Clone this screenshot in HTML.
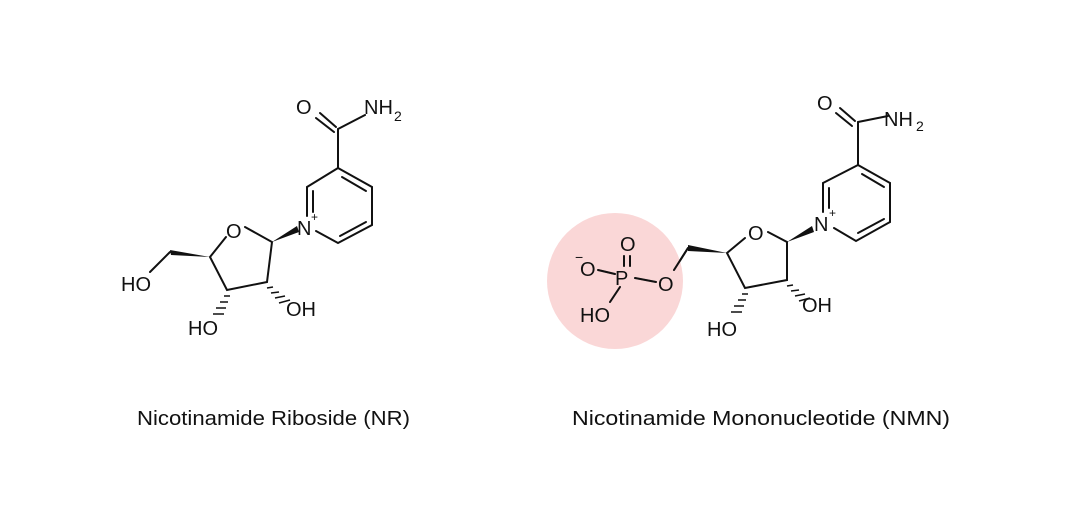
<!DOCTYPE html>
<html><head><style>
html,body{margin:0;padding:0;background:#fff;}
svg{display:block;}
text{font-family:"Liberation Sans",sans-serif;fill:#111;}
</style></head><body>
<svg width="1081" height="526" viewBox="0 0 1081 526" xmlns="http://www.w3.org/2000/svg">
<defs>
<pattern id="h" width="3" height="3" patternUnits="userSpaceOnUse"><rect width="1.5" height="3" fill="#111"/></pattern>
</defs>
<g stroke="#111" stroke-width="2" fill="none" stroke-linecap="round">
<!-- Left molecule -->
<line x1="320" y1="113" x2="336" y2="127"/>
<line x1="316" y1="118" x2="334" y2="132"/>
<line x1="338" y1="129" x2="365" y2="115"/>
<line x1="338" y1="129" x2="338" y2="168"/>
<polyline points="338,168 372,187 372,225 338,243 316,231"/>
<line x1="307" y1="216" x2="307" y2="187"/>
<line x1="307" y1="187" x2="338" y2="168"/>
<line x1="342" y1="177" x2="366" y2="191"/>
<line x1="366" y1="222" x2="340" y2="236"/>
<line x1="313" y1="212" x2="313" y2="191"/>
<polyline points="245,227 272,242 267,282 227,290 210,257 226,237"/>
<line x1="170" y1="252" x2="150" y2="272"/>
<!-- Right molecule -->
<line x1="840" y1="108" x2="855" y2="121"/>
<line x1="836" y1="113" x2="852" y2="126"/>
<line x1="858" y1="122" x2="888" y2="116"/>
<line x1="858" y1="122" x2="858" y2="165"/>
<polyline points="858,165 890,183 890,222 856,241 834,228"/>
<line x1="823" y1="212" x2="823" y2="183"/>
<line x1="823" y1="183" x2="858" y2="165"/>
<line x1="862" y1="174" x2="884" y2="187"/>
<line x1="884" y1="219" x2="858" y2="233"/>
<line x1="829" y1="208" x2="829" y2="188"/>
<polyline points="768,232 787,242 787,280 745,288 727,253 745,238"/>
<line x1="688" y1="248" x2="674" y2="270"/>
<line x1="635" y1="278" x2="656" y2="282"/>
<line x1="598" y1="270" x2="615" y2="274"/>
<line x1="624" y1="256" x2="624" y2="266"/>
<line x1="630" y1="256" x2="630" y2="266"/>
<line x1="620" y1="287" x2="610" y2="302"/>
</g>
<circle cx="615" cy="281" r="68" fill="#f8caca" opacity="0.75"/>
<g stroke="#111" stroke-width="2" fill="none" stroke-linecap="round">
<line x1="688" y1="248" x2="674" y2="270"/>
<line x1="635" y1="278" x2="656" y2="282"/>
<line x1="598" y1="270" x2="615" y2="274"/>
<line x1="624" y1="256" x2="624" y2="266"/>
<line x1="630" y1="256" x2="630" y2="266"/>
<line x1="620" y1="287" x2="610" y2="302"/>
</g>
<!-- wedges -->
<g fill="#111">
<polygon points="272,242 297,226 299,232"/>
<polygon points="210,257 170,250 171,255"/>
<polygon points="787,242 812,226 814,232"/>
<polygon points="727,253 688,245 688,251"/>
</g>
<g stroke="#111" stroke-width="1.5">
<line x1="224" y1="296" x2="230" y2="296"/><line x1="220" y1="302" x2="228" y2="302"/><line x1="216" y1="308" x2="226" y2="308"/><line x1="213" y1="314" x2="224" y2="314"/>
<line x1="267" y1="288" x2="273" y2="287"/><line x1="271" y1="293" x2="279" y2="292"/><line x1="275" y1="298" x2="285" y2="296"/><line x1="279" y1="303" x2="290" y2="300"/>
<line x1="742" y1="294" x2="748" y2="294"/><line x1="738" y1="300" x2="746" y2="300"/><line x1="734" y1="306" x2="744" y2="306"/><line x1="731" y1="312" x2="742" y2="312"/>
<line x1="787" y1="286" x2="793" y2="285"/><line x1="791" y1="291" x2="799" y2="290"/><line x1="795" y1="296" x2="805" y2="294"/><line x1="799" y1="301" x2="810" y2="298"/>
</g>
<g font-size="20">
<text x="296" y="114">O</text>
<text x="364" y="114">NH</text><text x="394" y="121" font-size="14">2</text>
<text x="297" y="235">N</text><text x="311" y="221" font-size="12">+</text>
<text x="226" y="238">O</text>
<text x="121" y="291">HO</text>
<text x="188" y="335">HO</text>
<text x="286" y="316">OH</text>
<text x="817" y="110">O</text>
<text x="884" y="126">NH</text><text x="916" y="131" font-size="14">2</text>
<text x="814" y="231">N</text><text x="829" y="217" font-size="12">+</text>
<text x="748" y="240">O</text>
<text x="707" y="336">HO</text>
<text x="802" y="312">OH</text>
<text x="658" y="291">O</text>
<text x="615" y="285">P</text>
<text x="620" y="251">O</text>
<text x="580" y="276">O</text>
<text x="575" y="262" font-size="14">−</text>
<text x="580" y="322">HO</text>
</g>
<text x="137" y="425" font-size="20" textLength="273" lengthAdjust="spacingAndGlyphs">Nicotinamide Riboside (NR)</text>
<text x="572" y="425" font-size="20" textLength="378" lengthAdjust="spacingAndGlyphs">Nicotinamide Mononucleotide (NMN)</text>
</svg>
</body></html>
